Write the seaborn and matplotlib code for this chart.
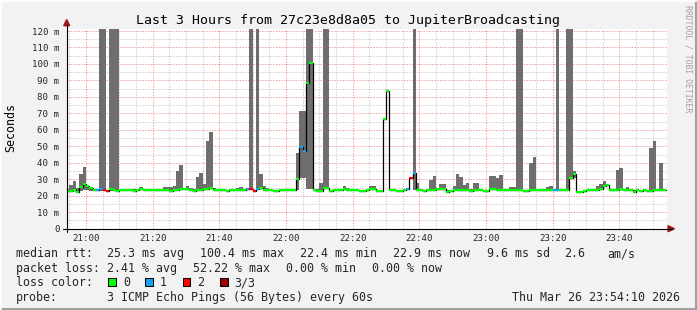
import numpy as np
import pandas as pd
import matplotlib
matplotlib.use("Agg")
import matplotlib.pyplot as plt
from matplotlib.lines import Line2D
from matplotlib.patches import Polygon, Rectangle
from matplotlib.ticker import MultipleLocator, FixedLocator
import seaborn as sns

# ---------------- data ----------------
TITLE = "Last 3 Hours from 27c23e8d8a05 to JupiterBroadcasting"
FIRST_MINUTE = -6          # first sample starts 20:54 (minutes relative to 21:00)
VIEW_START = -5 - 50 / 60  # 20:54:10
VIEW_END = 174 + 10 / 60   # 23:54:10

MEDIAN = [
    23.0, 23.0, 23.3, 22.5, 25.3, 27.3, 25.9, 24.6, 23.3, 23.2,
    23.8, 23.3, 22.6, 24.0, 23.4, 23.0, 23.3, 23.3, 23.3, 23.3,
    23.1, 23.3, 24.3, 23.5, 23.3, 23.3, 23.3, 23.3, 23.3, 23.3,
    23.3, 22.7, 23.3, 23.5, 23.8, 24.0, 24.0, 23.6, 22.8, 23.2,
    23.3, 24.0, 24.2, 24.8, 23.5, 23.3, 23.3, 23.3, 22.6, 23.3,
    23.3, 23.6, 23.6, 23.3, 23.8, 23.8, 22.8, 23.8, 24.7, 23.3,
    23.3, 23.3, 22.8, 22.8, 23.3, 23.6, 23.6, 23.3, 23.5, 30.0,
    49.6, 47.0, 88.5, 100.6, 23.3, 22.9, 23.0, 24.7, 24.7, 23.0,
    23.3, 23.3, 23.3, 23.8, 23.3, 23.3, 23.3, 23.3, 22.8, 22.8,
    23.3, 24.3, 24.3, 22.9, 22.9, 66.6, 83.6, 23.3, 23.3, 22.7,
    22.7, 23.3, 23.8, 30.8, 33.8, 23.3, 23.3, 23.0, 23.3, 23.3,
    23.5, 24.0, 24.3, 24.3, 22.5, 22.7, 23.3, 23.5, 23.5, 23.3,
    23.3, 23.0, 23.5, 23.5, 23.3, 22.8, 22.8, 23.8, 23.8, 23.3,
    23.3, 23.3, 23.3, 23.3, 23.3, 23.5, 23.5, 22.8, 23.0, 23.3,
    23.3, 23.3, 23.3, 23.3, 23.5, 23.5, 23.3, 23.3, 23.3, 23.3,
    23.3, 30.8, 33.2, 22.3, 22.3, 22.9, 23.3, 23.3, 23.3, 23.3,
    24.3, 25.7, 26.3, 23.3, 23.3, 23.6, 23.8, 23.3, 23.3, 23.3,
    22.5, 23.3, 23.0, 23.3, 22.9, 22.9, 23.3, 23.3, 23.3, 23.3,
]

PING_MAX = [
    23.8, 26.3, 28.7, 24.5, 33.0, 37.2, 26.5, 24.9, 23.9, 23.8,
    200, 200, 22.6, 200, 200, 200, 23.9, 23.9, 23.9, 23.9,
    23.8, 23.9, 25.1, 24.0, 23.8, 23.8, 23.8, 23.8, 23.8, 25.1,
    25.1, 25.1, 25.7, 34.8, 38.5, 24.8, 25.7, 25.0, 23.8, 31.2,
    33.6, 27.3, 53.0, 58.5, 25.0, 23.9, 23.8, 23.8, 23.4, 23.8,
    23.8, 24.7, 25.3, 23.8, 24.0, 200, 22.8, 200, 33.0, 25.7,
    24.5, 23.8, 23.4, 23.4, 23.8, 24.0, 24.0, 23.8, 24.0, 46.2,
    71.3, 71.3, 200, 200, 24.0, 23.8, 27.5, 200, 200, 23.5,
    23.8, 23.8, 23.8, 25.7, 24.5, 23.8, 23.8, 23.8, 23.4, 23.4,
    23.8, 25.7, 25.7, 23.5, 23.5, 66.6, 83.6, 23.8, 23.8, 23.3,
    23.3, 23.8, 23.8, 30.8, 200, 27.5, 23.8, 23.5, 23.8, 29.4,
    31.8, 24.3, 26.9, 26.9, 23.5, 23.5, 25.7, 33.0, 31.2, 26.5,
    27.5, 23.8, 27.9, 27.9, 23.8, 23.4, 23.4, 32.0, 32.0, 30.6,
    32.6, 24.0, 24.0, 25.1, 25.1, 200, 200, 23.4, 23.6, 39.7,
    43.3, 23.8, 23.8, 23.8, 25.1, 25.9, 24.0, 200, 23.8, 23.8,
    200, 200, 35.0, 22.8, 22.8, 23.4, 23.8, 23.8, 23.8, 25.9,
    27.1, 28.7, 27.1, 23.8, 23.8, 35.6, 36.6, 24.0, 25.1, 23.8,
    23.5, 23.8, 23.6, 23.8, 23.5, 48.8, 53.0, 23.8, 39.7, 23.8,
]

PING_MIN = [
    22.6, 22.6, 22.8, 22.2, 23.0, 23.5, 23.4, 23.0, 22.9, 22.9,
    22.9, 22.9, 22.6, 23.0, 23.0, 22.8, 22.9, 22.9, 22.9, 22.9,
    22.8, 22.9, 23.2, 23.0, 22.9, 22.9, 22.9, 22.9, 22.9, 22.9,
    22.9, 22.4, 22.9, 23.0, 23.2, 23.4, 23.4, 23.0, 22.5, 22.8,
    22.9, 23.4, 23.6, 24.0, 23.0, 22.9, 22.9, 22.9, 22.3, 22.9,
    22.9, 23.1, 23.1, 22.9, 23.3, 23.3, 22.8, 23.3, 24.0, 22.9,
    22.9, 22.9, 22.5, 22.5, 22.9, 23.1, 23.1, 22.9, 23.0, 23.5,
    31.0, 31.0, 24.0, 24.0, 22.9, 22.5, 22.6, 24.0, 24.0, 22.6,
    22.9, 22.9, 22.9, 23.3, 22.9, 22.9, 22.9, 22.9, 22.5, 22.5,
    22.9, 23.8, 23.8, 22.6, 22.6, 66.6, 83.6, 22.9, 22.9, 22.4,
    22.4, 22.9, 23.3, 30.8, 23.3, 22.9, 22.9, 22.6, 22.9, 22.9,
    23.0, 23.5, 23.8, 23.8, 22.2, 22.4, 22.9, 23.0, 23.0, 22.9,
    22.9, 22.6, 23.0, 23.0, 22.9, 22.5, 22.5, 23.3, 23.3, 22.9,
    22.9, 22.9, 22.9, 22.9, 22.9, 23.0, 23.0, 22.5, 22.6, 22.9,
    22.9, 22.9, 22.9, 22.9, 23.0, 23.0, 22.9, 22.9, 22.9, 22.9,
    22.9, 30.0, 31.0, 22.0, 22.0, 22.6, 22.9, 22.9, 22.9, 22.9,
    23.8, 25.2, 25.8, 22.9, 22.9, 23.1, 23.3, 22.9, 22.9, 22.9,
    22.2, 22.9, 22.6, 22.9, 22.6, 22.6, 22.9, 22.9, 22.9, 22.9,
]

LOSS = [
    0, 0, 0, 0, 0, 0, 0, 0, 0, 1,
    1, 2, 2, 0, 0, 0, 0, 0, 0, 0,
    0, 0, 0, 0, 0, 0, 0, 0, 0, 0,
    0, 0, 0, 0, 0, 0, 0, 0, 0, 0,
    0, 0, 0, 0, 0, 0, 0, 0, 0, 0,
    0, 0, 0, 0, 1, 2, 2, 1, 0, 0,
    0, 0, 0, 0, 0, 0, 0, 0, 0, 0,
    1, 1, 0, 0, 0, 0, 0, 0, 0, 0,
    0, 0, 0, 0, 0, 0, 0, 0, 0, 0,
    0, 0, 0, 0, 0, 0, 0, 0, 0, 0,
    0, 0, 1, 2, 1, 0, 0, 0, 0, 0,
    0, 0, 0, 0, 0, 0, 0, 0, 0, 0,
    0, 0, 0, 0, 0, 0, 0, 0, 0, 0,
    0, 0, 0, 0, 0, 0, 0, 0, 0, 0,
    0, 0, 0, 0, 0, 0, 1, 1, 0, 0,
    0, 0, 0, 0, 0, 0, 0, 0, 0, 0,
    0, 0, 0, 0, 0, 0, 0, 0, 0, 0,
    0, 0, 0, 0, 0, 0, 0, 0, 0, 0,
]

XTICK_LABELS = ["21:00", "21:20", "21:40", "22:00", "22:20", "22:40", "23:00", "23:20", "23:40"]
YTICK_VALUES = [0, 10, 20, 30, 40, 50, 60, 70, 80, 90, 100, 110, 120]
YTICK_LABELS = ["0", "10 m", "20 m", "30 m", "40 m", "50 m", "60 m", "70 m",
                "80 m", "90 m", "100 m", "110 m", "120 m"]

LOSS_LABELS = ["0", "1", "2", "3/3"]
LOSS_COLORS = ["#00ff00", "#10a4f0", "#ff0000", "#a00000"]

STATS_RTT = ["median rtt:", "25.3 ms avg", "100.4 ms max", "22.4 ms min",
             "22.9 ms now", "9.6 ms sd", "2.6", "am/s"]
STATS_LOSS = ["packet loss:", "2.41 % avg", "52.22 % max", "0.00 % min", "0.00 % now"]
PROBE = ["probe:", "3 ICMP Echo Pings (56 Bytes) every 60s"]
DATE_TEXT = "Thu Mar 26 23:54:10 2026"
SIDE_TEXT = "RRDTOOL / TOBI OETIKER"

# ---------------- style ----------------
sns.set_style("white")
MONO = ["DejaVu Sans Mono", "DejaVu Sans"]
plt.rcParams["font.family"] = MONO

W, H = 697, 310
BG = "#f2f2f2"


def fx(px):
    return px / W


def fy(py):
    return 1 - py / H


fig = plt.figure(figsize=(W / 100, H / 100), dpi=100, facecolor=BG)
ax = fig.add_axes([fx(66.7), fy(228.7), 600 / W, 200 / H])
ax.set_facecolor("white")

n = len(MEDIAN)
starts = FIRST_MINUTE + np.arange(n)
edges = np.append(starts, starts[-1] + 1)
lo = np.append(PING_MIN, PING_MIN[-1])
hi = np.append(PING_MAX, PING_MAX[-1])
med = np.append(MEDIAN, MEDIAN[-1])

# grid
ax.set_xlim(VIEW_START, VIEW_END)
ax.set_ylim(0, 121.4)
ax.xaxis.set_major_locator(FixedLocator([20 * i for i in range(len(XTICK_LABELS))]))
ax.xaxis.set_minor_locator(MultipleLocator(5))
ax.yaxis.set_major_locator(FixedLocator(YTICK_VALUES))
ax.yaxis.set_minor_locator(MultipleLocator(5))
ax.set_xticklabels(XTICK_LABELS)
ax.set_yticklabels(YTICK_LABELS)
ax.set_axisbelow(True)
dots = (0, (1.39, 1.39))
ax.grid(True, which="major", color="#f2a0a0", linestyle=dots, linewidth=0.72)
ax.grid(True, which="minor", color="#cfcfcf", linestyle=dots, linewidth=0.72)
ax.tick_params(which="major", length=2.2, width=0.72, color="black",
               labelsize=6.6, direction="out")
ax.tick_params(axis="x", which="major", pad=1.4)
ax.tick_params(axis="y", which="major", pad=3.0)
ax.tick_params(which="minor", length=0)
for s in ax.spines.values():
    s.set_visible(False)

# smoke
ax.fill_between(edges, lo, hi, step="post", color="#6e6e6e", linewidth=0, zorder=2)

# median line (black step line)
df = pd.DataFrame({"minute": edges, "median": med})
sns.lineplot(data=df, x="minute", y="median", drawstyle="steps-post",
             color="black", linewidth=0.9, estimator=None, ax=ax, zorder=3)
# loss-coloured median segments
seg_colors = [LOSS_COLORS[l] for l in LOSS]
ax.hlines(MEDIAN, starts, starts + 1, colors=seg_colors, linewidth=1.6, zorder=4)
ax.set_xlabel("")
ax.set_ylabel("")

# axis lines with arrows
fig.add_artist(Line2D([fx(63), fx(672)], [fy(228.7), fy(228.7)],
                      transform=fig.transFigure, color="black", linewidth=0.8))
fig.add_artist(Line2D([fx(66.7), fx(66.7)], [fy(231.7), fy(25)],
                      transform=fig.transFigure, color="black", linewidth=0.8))
fig.add_artist(Polygon([[fx(668), fy(225.7)], [fx(674.5), fy(228.7)], [fx(668), fy(231.7)]],
                       closed=True, transform=fig.transFigure, color="#a01818"))
fig.add_artist(Polygon([[fx(63.7), fy(25.7)], [fx(66.7), fy(19.5)], [fx(69.7), fy(25.7)]],
                       closed=True, transform=fig.transFigure, color="#a01818"))

# title & labels
fig.text(fx(348.5), fy(24), TITLE, ha="center", va="baseline", fontsize=9.55, color="black")
fig.text(fx(11), fy(128), "Seconds", rotation=90, ha="center", va="center",
         fontsize=8.35, color="black")
fig.text(fx(688), fy(5), SIDE_TEXT, rotation=270, ha="center", va="top",
         fontsize=5.9, color="#a0a0a0")

# legend / statistics
FS = 8.35
rows = [257.4, 271.9, 286.4, 300.9]
rtt_x = [16, 107, 200, 300, 393, 487, 564, 607]
for t, x in zip(STATS_RTT, rtt_x):
    fig.text(fx(x), fy(rows[0]), t, ha="left", va="baseline", fontsize=FS)
loss_x = [16, 107, 193, 286, 372]
for t, x in zip(STATS_LOSS, loss_x):
    fig.text(fx(x), fy(rows[1]), t, ha="left", va="baseline", fontsize=FS)
fig.text(fx(16), fy(rows[2]), "loss color:", ha="left", va="baseline", fontsize=FS)
box_x = [108.3, 145.3, 182.7, 220]
for lab, col, x in zip(LOSS_LABELS, LOSS_COLORS, box_x):
    fig.add_artist(Rectangle((fx(x), fy(285.8)), 7.6 / W, 7.6 / H,
                             transform=fig.transFigure, facecolor=col,
                             edgecolor="black", linewidth=0.75))
    fig.text(fx(x + 14.7), fy(rows[2]), lab, ha="left", va="baseline", fontsize=FS)
fig.text(fx(16), fy(rows[3]), PROBE[0], ha="left", va="baseline", fontsize=FS)
fig.text(fx(107), fy(rows[3]), PROBE[1], ha="left", va="baseline", fontsize=FS)
fig.text(fx(680.5), fy(rows[3]), DATE_TEXT, ha="right", va="baseline", fontsize=FS)

# 3D frame
fig.add_artist(Line2D([0, 1], [fy(308.5), fy(308.5)], transform=fig.transFigure,
                      color="#a0a0a0", linewidth=2.2))
fig.add_artist(Line2D([fx(695.5), fx(695.5)], [0, 1], transform=fig.transFigure,
                      color="#a0a0a0", linewidth=2.2))
fig.add_artist(Line2D([0, 1], [fy(0.7), fy(0.7)], transform=fig.transFigure,
                      color="#ffffff", linewidth=1.2))
fig.add_artist(Line2D([fx(0.7), fx(0.7)], [0, 1], transform=fig.transFigure,
                      color="#ffffff", linewidth=1.2))

fig.savefig("out.png", dpi=100, facecolor=BG)
